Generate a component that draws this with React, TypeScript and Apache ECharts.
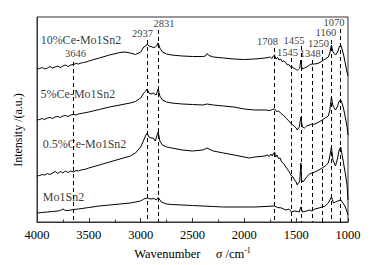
import React, { useEffect, useRef } from "react";
import * as echarts from "echarts";

// Spectra: [wavenumber (cm-1), relative intensity (a.u., offset stacked)]
const ce10: [number, number][] = [
  [4000, 153], [3975, 153.5], [3950, 154.5], [3925, 153], [3900, 154], [3875, 155.5], [3850, 154],
  [3825, 155], [3800, 156], [3775, 154.5], [3750, 156], [3725, 157], [3700, 155.5], [3675, 157],
  [3646, 157.5], [3625, 158.5], [3600, 158], [3575, 159], [3550, 159.5], [3525, 160], [3500, 161],
  [3400, 164], [3300, 167], [3200, 169.5], [3150, 170], [3100, 169], [3050, 167.5], [3000, 170],
  [2970, 175], [2950, 176], [2937, 178], [2920, 176], [2900, 175.5], [2880, 174.5], [2860, 175],
  [2845, 176], [2831, 179], [2815, 174], [2790, 170], [2750, 168], [2700, 167], [2600, 166],
  [2500, 165.5], [2400, 165.5], [2375, 166], [2361, 168.5], [2340, 166.5], [2300, 165], [2200, 164],
  [2100, 163], [2000, 162.5], [1900, 163], [1800, 164], [1770, 164.5], [1750, 165], [1735, 163.5],
  [1720, 166], [1708, 167], [1695, 163], [1680, 164.5], [1665, 162], [1650, 163], [1635, 160.5],
  [1620, 161], [1600, 159.5], [1585, 157], [1570, 157.5], [1555, 155], [1545, 156], [1530, 154],
  [1515, 153.5], [1500, 152.5], [1490, 151.5], [1475, 153], [1465, 154], [1455, 162], [1447, 155],
  [1435, 153], [1420, 154], [1400, 155], [1370, 157], [1348, 158], [1320, 158], [1280, 159],
  [1250, 161], [1220, 163], [1190, 165], [1175, 169], [1160, 177], [1145, 170], [1120, 167],
  [1100, 170], [1085, 175], [1070, 177], [1055, 172], [1040, 166], [1025, 158], [1010, 150], [1000, 146],
];

const ce5: [number, number][] = [
  [4000, 102], [3975, 102.5], [3950, 103.5], [3925, 102.5], [3900, 104], [3875, 104.5], [3850, 103.5],
  [3825, 105], [3800, 105.5], [3775, 104.5], [3750, 106], [3725, 106.5], [3700, 105.5], [3675, 107],
  [3646, 107.5], [3625, 107], [3600, 108], [3575, 108.5], [3550, 109], [3525, 109.5], [3500, 110],
  [3400, 112.5], [3300, 115], [3200, 117], [3100, 119], [3050, 120.5], [3000, 124], [2970, 129],
  [2950, 131], [2937, 133], [2920, 129], [2900, 128], [2880, 129], [2850, 127], [2831, 133],
  [2815, 126], [2790, 122], [2750, 120], [2700, 119], [2600, 118], [2500, 117.5], [2400, 117],
  [2361, 118], [2300, 117], [2200, 116], [2100, 115], [2000, 113], [1900, 112], [1800, 112],
  [1750, 111.5], [1730, 112.5], [1708, 113], [1690, 110.5], [1670, 111], [1640, 108], [1620, 106.5],
  [1600, 104], [1570, 101], [1545, 98], [1520, 96], [1500, 94], [1490, 92], [1470, 95], [1455, 105],
  [1440, 95], [1420, 94], [1400, 96], [1370, 97], [1348, 98], [1320, 98], [1280, 100], [1250, 102],
  [1220, 104], [1190, 106], [1175, 112], [1160, 125], [1145, 116], [1120, 112], [1100, 116],
  [1085, 121], [1070, 122], [1055, 118], [1040, 112], [1025, 104], [1010, 96], [1000, 87],
];

const ce05: [number, number][] = [
  [4000, 46], [3975, 46.5], [3950, 47.5], [3925, 47], [3900, 48.5], [3875, 47.5], [3850, 49],
  [3825, 50.5], [3800, 48.5], [3775, 50.5], [3750, 49], [3725, 51], [3700, 49.5], [3675, 51],
  [3646, 50], [3625, 51.5], [3600, 51], [3575, 52], [3550, 52.5], [3525, 53], [3500, 54],
  [3400, 57], [3300, 60], [3200, 63], [3100, 66], [3050, 69], [3000, 75], [2970, 82], [2950, 87],
  [2937, 89], [2920, 85], [2900, 84], [2880, 84], [2860, 81], [2831, 90], [2815, 81], [2790, 77],
  [2750, 75], [2700, 74], [2600, 72], [2500, 71], [2400, 72], [2361, 74], [2300, 71], [2200, 69],
  [2100, 67], [2000, 65], [1950, 64], [1900, 65], [1800, 66], [1780, 67], [1760, 65.5], [1745, 68],
  [1730, 66], [1718, 69], [1708, 70], [1698, 65], [1685, 67], [1670, 63.5], [1655, 64], [1640, 60],
  [1620, 58.5], [1600, 55], [1585, 53], [1570, 50.5], [1555, 48], [1545, 46], [1530, 45], [1515, 42],
  [1500, 40], [1490, 37], [1475, 39.5], [1465, 41], [1455, 59], [1448, 42], [1435, 40], [1420, 42],
  [1400, 45], [1370, 48], [1348, 49], [1320, 50], [1280, 52], [1250, 54], [1220, 56], [1190, 59],
  [1175, 66], [1160, 75], [1145, 62], [1120, 56], [1100, 64], [1085, 72], [1070, 75], [1055, 66],
  [1040, 57], [1025, 48], [1010, 38], [1000, 22],
];

const mo1sn2: [number, number][] = [
  [4000, 9], [3950, 9.5], [3900, 10], [3850, 10.5], [3800, 11], [3775, 11.5], [3750, 13], [3725, 11.5],
  [3700, 11.5], [3646, 12.5], [3600, 13], [3500, 14.5], [3400, 16], [3300, 17], [3200, 18], [3100, 19],
  [3000, 21], [2970, 23], [2937, 24], [2900, 23], [2870, 23.5], [2850, 22], [2831, 24.5], [2800, 20],
  [2750, 18], [2700, 17.5], [2600, 17], [2500, 16.5], [2400, 16], [2300, 15.5], [2200, 15], [2100, 15],
  [2000, 15], [1900, 15], [1800, 15.5], [1708, 16], [1680, 14.5], [1640, 14], [1600, 12], [1570, 13],
  [1545, 10], [1520, 11], [1490, 10.5], [1470, 10], [1455, 15], [1440, 10], [1400, 11], [1370, 12],
  [1348, 11], [1320, 13], [1280, 14], [1250, 15], [1220, 16], [1190, 19], [1160, 25], [1140, 19],
  [1120, 20], [1100, 21], [1070, 22], [1050, 19], [1030, 16], [1015, 12], [1000, 7],
];

// Dashed guide lines: wavenumber and top end
const guideWavenumbers = [3646, 2937, 2831, 1708, 1545, 1455, 1348, 1250, 1160, 1070];
const guideTops = [160, 182, 192, 174, 164, 176, 162, 172, 182, 193];

// Peak annotation labels: [x, y] and text
const peakLabels = ["3646", "2937", "2831", "1708", "1455", "1545", "1348", "1250", "1160", "1070"];
const peakLabelPos: [number, number][] = [
  [3629, 169], [2983, 189], [2775, 198.5], [1777, 181], [1522, 182],
  [1584, 169.5], [1363, 168.5], [1285, 179], [1213, 189.5], [1136, 200],
];

const sampleNames = ["10%Ce-Mo1Sn2", "5%Ce-Mo1Sn2", "0.5%Ce-Mo1Sn2", "Mo1Sn2"];
const sampleLabelPos: [number, number][] = [[3576, 182], [3605, 128], [3542, 78], [3744, 25]];

const xTicks = { min: 1000, max: 4000, interval: 500 };

const FONT = "Liberation Serif";

export default function App() {
  const ref = useRef<HTMLDivElement>(null);
  useEffect(() => {
    if (!ref.current) return;
    const chart = echarts.init(ref.current, undefined, { renderer: "svg" });
    const lineStyle = { color: "#000", width: 1 };
    const mkSeries = (name: string, data: [number, number][]) => ({
      name,
      type: "line",
      data,
      showSymbol: false,
      symbol: "none",
      lineStyle,
      itemStyle: { color: "#000" },
      silent: true,
      z: 3,
    });
    chart.setOption({
      animation: false,
      backgroundColor: "#fff",
      textStyle: { fontFamily: FONT },
      grid: {
        left: 37,
        right: 23,
        top: 17,
        bottom: 43,
        show: true,
        borderColor: "#333",
        borderWidth: 1,
      },
      xAxis: {
        type: "value",
        inverse: true,
        min: xTicks.min,
        max: xTicks.max,
        interval: xTicks.interval,
        axisLine: { show: true, lineStyle: { color: "#333", width: 1 } },
        axisTick: { show: true, inside: true, length: 4, lineStyle: { color: "#333" } },
        minorTick: { show: true, splitNumber: 2, length: 2.5, lineStyle: { color: "#333" } },
        splitLine: { show: false },
        axisLabel: {
          color: "#000",
          fontSize: 12.5,
          margin: 6,
          fontFamily: FONT,
          formatter: (v: number) => String(v),
        },
        name: "Wavenumber     {i|σ} /cm{s|-1}",
        nameLocation: "middle",
        nameGap: 24,
        nameTextStyle: {
          color: "#000",
          fontSize: 12.5,
          fontFamily: FONT,
          rich: {
            i: { fontStyle: "italic", fontSize: 12.5, fontFamily: FONT, color: "#000" },
            s: { fontSize: 8, fontFamily: FONT, color: "#000", padding: [0, 0, 7, 0] },
          },
        },
      },
      yAxis: {
        type: "value",
        min: 0,
        max: 205,
        axisLine: { show: true, lineStyle: { color: "#333", width: 1 } },
        axisTick: { show: false },
        axisLabel: { show: false },
        splitLine: { show: false },
      },
      graphic: [
        {
          type: "text",
          x: 18,
          y: 130,
          rotation: Math.PI / 2,
          style: {
            text: "Intensity /(a.u.)",
            align: "center",
            verticalAlign: "middle",
            fill: "#000",
            fontSize: 12,
            fontFamily: FONT,
          },
        },
      ],
      series: [
        {
          ...mkSeries("10%Ce-Mo1Sn2", ce10),
          markLine: {
            silent: true,
            symbol: "none",
            label: { show: false },
            lineStyle: { color: "#000", width: 1, type: [4, 3] },
            data: guideWavenumbers.map((w, i) => [
              { coord: [w, guideTops[i]] },
              { coord: [w, 0] },
            ]),
          },
        },
        mkSeries("5%Ce-Mo1Sn2", ce5),
        mkSeries("0.5%Ce-Mo1Sn2", ce05),
        mkSeries("Mo1Sn2", mo1sn2),
        {
          type: "scatter",
          silent: true,
          symbolSize: 0,
          data: peakLabels.map((t, i) => ({ name: t, value: peakLabelPos[i] })),
          label: {
            show: true,
            position: "inside",
            formatter: "{b}",
            color: "#000",
            fontSize: 10.5,
            lineHeight: 10,
            fontFamily: FONT,
          },
          z: 5,
        },
        {
          type: "scatter",
          silent: true,
          symbolSize: 0,
          data: sampleNames.map((t, i) => ({ name: t, value: sampleLabelPos[i] })),
          label: {
            show: true,
            position: "inside",
            formatter: "{b}",
            color: "#000",
            fontSize: 12,
            fontFamily: FONT,
          },
          z: 5,
        },
      ],
    });
    return () => chart.dispose();
  }, []);
  return (
    <div
      ref={ref}
      style={{ position: "fixed", left: 0, top: 0, width: 371, height: 265, background: "#fff" }}
    />
  );
}
